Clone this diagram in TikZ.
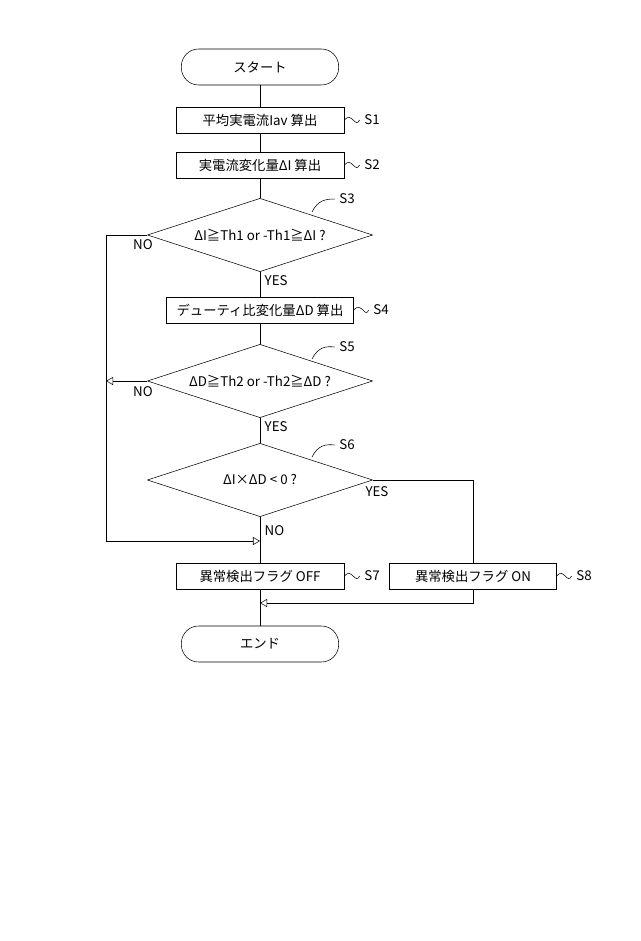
\documentclass[tikz,border=0pt]{standalone}
\usepackage{fontspec}
\setmainfont{Noto Sans CJK JP}
\usetikzlibrary{shapes.geometric,arrows}
\tikzset{
  proc/.style={draw, rectangle, minimum height=19.5pt, inner sep=2pt, font=\fontsize{10}{12}\selectfont},
  term/.style={draw, rounded corners=13pt, minimum width=118pt, minimum height=27pt, font=\fontsize{10}{12}\selectfont},
  dec/.style={draw, diamond, aspect=3.1, inner sep=0pt, minimum width=169pt, minimum height=55pt, font=\fontsize{10}{12}\selectfont},
  lbl/.style={font=\fontsize{10}{12}\selectfont},
  flow/.style={-open triangle 60, thin}
}
\begin{document}
\begin{tikzpicture}[x=0.75pt, y=-0.75pt, thin]
  \useasboundingbox (0,0) rectangle (640,941);
  \node[term] (start) at (260,67) {スタート};
  \node[proc, minimum width=126pt] (s1) at (260,120) {平均実電流Iav 算出};
  \node[proc, minimum width=126pt] (s2) at (260,165) {実電流変化量ΔI 算出};
  \node[dec] (s3) at (260,235) {ΔI≧Th1 or -Th1≧ΔI ?};
  \node[proc, minimum width=140pt] (s4) at (260,310) {デューティ比変化量ΔD 算出};
  \node[dec] (s5) at (260,381) {ΔD≧Th2 or -Th2≧ΔD ?};
  \node[dec] (s6) at (260,480) {ΔI×ΔD < 0 ?};
  \node[proc, minimum width=126pt] (s7) at (260,576) {異常検出フラグ OFF};
  \node[proc, minimum width=125pt] (s8) at (473,576) {異常検出フラグ ON};
  \node[term] (end) at (260,644) {エンド};
  % step labels
  \node[lbl] (l1) at (372,120) {S1};
  \node[lbl] (l2) at (372,165) {S2};
  \node[lbl] (l3) at (347,199) {S3};
  \node[lbl] (l4) at (381,310) {S4};
  \node[lbl] (l5) at (347,347) {S5};
  \node[lbl] (l6) at (347,445) {S6};
  \node[lbl] (l7) at (372,576) {S7};
  \node[lbl] (l8) at (584,576) {S8};
  \draw (s1.east) .. controls (352,111) and (355,129) .. (l1.west);
  \draw (s2.east) .. controls (352,156) and (355,174) .. (l2.west);
  \draw (s4.east) .. controls (362,301) and (365,319) .. (l4.west);
  \draw (s7.east) .. controls (352,567) and (355,585) .. (l7.west);
  \draw (s8.east) .. controls (564,567) and (567,585) .. (l8.west);
  \draw (312,212) .. controls (318,200) and (326,199) .. (l3.west);
  \draw (312,359) .. controls (318,347) and (326,346) .. (l5.west);
  \draw (312,457) .. controls (318,445) and (326,444) .. (l6.west);
  % main flow
  \draw (start) -- (s1);
  \draw (s1) -- (s2);
  \draw (s2) -- (s3);
  \draw (s3) -- node[lbl, pos=0.35, right] {YES} (s4);
  \draw (s4) -- (s5);
  \draw (s5) -- node[lbl, pos=0.35, right] {YES} (s6);
  \draw (s6) -- node[lbl, pos=0.3, right] {NO} (s7);
  \draw (s7) -- (end);
  % branches
  \coordinate (mj) at (260,541);
  \coordinate (mk) at (260,603);
  \draw[flow] (s3.west) -- (106,235) -- (106,541) -- (mj);
  \node[lbl] at (143,245) {NO};
  \draw[flow] (s5.west) -- (106,381);
  \node[lbl] at (143,392) {NO};
  \draw (s6.east) -- (473,480) -- (s8.north);
  \node[lbl] at (377,492) {YES};
  \draw[flow] (s8.south) -- (473,603) -- (mk);
\end{tikzpicture}
\end{document}
